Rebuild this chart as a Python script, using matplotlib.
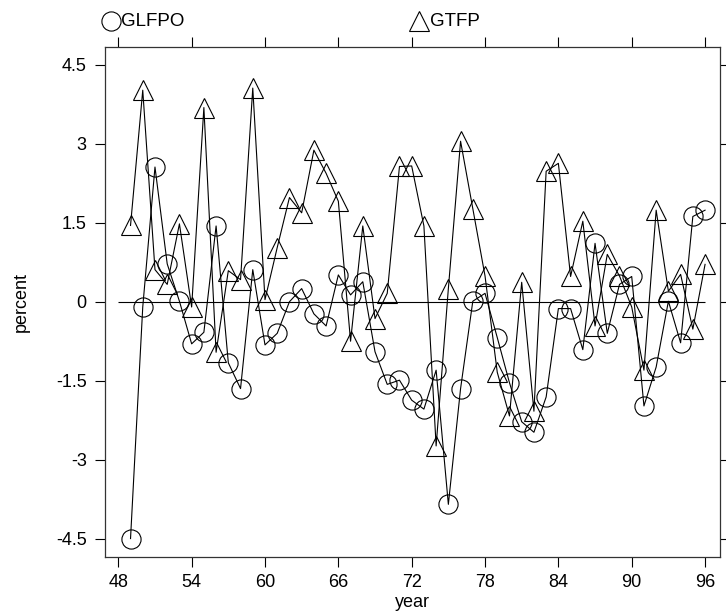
import numpy as np
import matplotlib
matplotlib.use("Agg")
import matplotlib.pyplot as plt

plt.rcParams["font.family"] = ["Liberation Sans", "DejaVu Sans"]

years = np.arange(49, 97)

# GLFPO (circles)
glfpo = [-4.50, -0.10, 2.56, 0.72, 0.01, -0.80, -0.58, 1.44, -1.16, -1.65,
         0.61, -0.82, -0.60, 0.00, 0.25, -0.23, -0.46, 0.51, 0.13, 0.38,
         -0.95, -1.57, -1.49, -1.87, -2.04, -1.30, -3.85, -1.65, 0.01, 0.16,
         -0.68, -1.54, -2.28, -2.48, -1.81, -0.13, -0.13, -0.91, 1.11, -0.60,
         0.33, 0.48, -1.98, -1.24, 0.01, -0.78, 1.62, 1.74]

# GTFP (triangles)
gtfp = [1.45, 4.02, 0.61, 0.33, 1.48, -0.10, 3.69, -0.96, 0.59, 0.42,
        4.06, 0.04, 1.03, 1.98, 1.69, 2.88, 2.44, 1.91, -0.75, 1.44,
        -0.32, 0.16, 2.57, 2.58, 1.44, -2.74, 0.25, 3.05, 1.77, 0.49,
        -1.34, -2.17, 0.37, -2.08, 2.48, 2.63, 0.48, 1.53, -0.46, 0.90,
        0.49, -0.10, -1.30, 1.74, 0.20, 0.52, -0.52, 0.71]

xticks = [48, 54, 60, 66, 72, 78, 84, 90, 96]
yticks = [-4.5, -3, -1.5, 0, 1.5, 3, 4.5]
ytick_labels = ["-4.5", "-3", "-1.5", "0", "1.5", "3", "4.5"]

fig = plt.figure(figsize=(7.26, 6.16), dpi=100)
ax = fig.add_axes([0.1446, 0.0958, 0.9917 - 0.1446, 0.9245 - 0.0958])

ms = 13.8
ax.hlines(0, xticks[0], xticks[-1], color="black", lw=0.8)
ax.plot(years, glfpo, color="black", lw=0.8, marker="o", ms=ms,
        mfc="none", mec="black", mew=0.8)
ax.plot(years, gtfp, color="black", lw=0.8, marker="^", ms=ms,
        mfc="none", mec="black", mew=0.8)

ax.set_xlim(46.91, 97.22)
ax.set_ylim(-4.85, 4.85)
ax.set_xticks(xticks)
ax.set_yticks(yticks)
ax.set_yticklabels(ytick_labels)
ax.tick_params(axis="both", direction="out", length=7.2, width=0.8,
               labelsize=13, color="black", pad=5)
ax.tick_params(axis="x", top=True, labeltop=False)
ax.tick_params(axis="y", right=True, labelright=False)
ax.yaxis.set_tick_params(which="major", pad=6)
for s in ax.spines.values():
    s.set_linewidth(0.9)
    s.set_color("#333333")

ax.set_xlabel("year", fontsize=13, labelpad=2)
ax.set_ylabel("percent", fontsize=13, labelpad=19)

# key above the plot
ky = 1 - 21 / 616
ax.plot([110.5 / 726], [ky], marker="o", ms=ms, mfc="none", mec="black",
        mew=0.8, transform=fig.transFigure, clip_on=False)
fig.text(121 / 726, ky, "GLFPO", fontsize=13.5, va="center", ha="left")
ax.plot([418.5 / 726], [ky], marker="^", ms=ms, mfc="none", mec="black",
        mew=0.8, transform=fig.transFigure, clip_on=False)
fig.text(430 / 726, ky, "GTFP", fontsize=13.5, va="center", ha="left")

fig.savefig("out.png", dpi=100)
